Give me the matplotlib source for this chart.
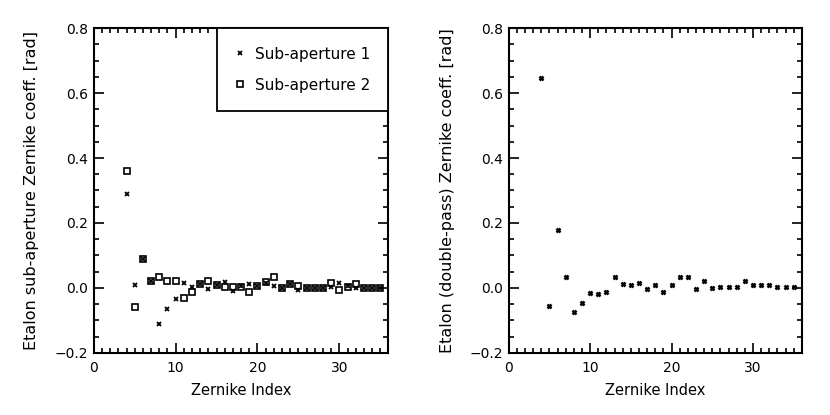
import matplotlib
matplotlib.use("Agg")
import matplotlib.pyplot as plt
from matplotlib.ticker import MultipleLocator, FixedLocator

zern_idx = list(range(4, 36))

sub1 = [0.29, 0.01, 0.09, 0.02, -0.11, -0.065, -0.035, 0.015, 0.003, 0.013,
        -0.004, 0.008, 0.017, -0.01, 0.005, 0.013, 0.007, 0.015, 0.005, 0.0,
        0.013, -0.006, 0.0, 0.0, 0.0, 0.004, 0.015, 0.005, 0.0, 0.0, 0.0, 0.0]

sub2 = [0.36, -0.06, 0.09, 0.02, 0.033, 0.02, 0.02, -0.03, -0.012, 0.013,
        0.02, 0.008, 0.003, 0.002, 0.004, -0.012, 0.007, 0.017, 0.032, 0.0,
        0.012, 0.005, 0.0, 0.0, 0.0, 0.016, -0.007, 0.004, 0.012, 0.0, 0.0, 0.0]

double_pass = [0.647, -0.055, 0.179, 0.034, -0.073, -0.048, -0.017, -0.019,
               -0.012, 0.034, 0.013, 0.008, 0.015, -0.004, 0.01, -0.012, 0.008,
               0.034, 0.034, -0.004, 0.02, -0.002, 0.003, 0.003, 0.003, 0.02,
               0.008, 0.008, 0.008, 0.003, 0.003, 0.003]

x_ticks = [0, 10, 20, 30]
x_ticklabels = ["0", "10", "20", "30"]
y_ticks = [-0.2, 0.0, 0.2, 0.4, 0.6, 0.8]
y_ticklabels = ["\u22120.2", "0.0", "0.2", "0.4", "0.6", "0.8"]

plt.rcParams['font.family'] = ['DejaVu Sans']
fig = plt.figure(figsize=(8.3, 4.15), dpi=100)
ax1 = fig.add_axes([0.113, 0.150, 0.355, 0.782])
ax2 = fig.add_axes([0.613, 0.150, 0.353, 0.782])

def style(ax, ylabel, ylab_x):
    ax.set_xlim(0, 36)
    ax.set_ylim(-0.2, 0.8)
    ax.xaxis.set_major_locator(FixedLocator(x_ticks))
    ax.set_xticklabels(x_ticklabels)
    ax.xaxis.set_minor_locator(MultipleLocator(1))
    ax.yaxis.set_major_locator(FixedLocator(y_ticks))
    ax.set_yticklabels(y_ticklabels)
    ax.yaxis.set_minor_locator(MultipleLocator(0.05))
    ax.tick_params(which='both', direction='in', top=True, right=True,
                   labelsize=10, width=1.2, colors='black')
    ax.tick_params(axis='y', pad=4)
    ax.tick_params(axis='x', pad=6)
    ax.tick_params(which='major', length=7)
    ax.tick_params(which='minor', length=3.5)
    for s in ax.spines.values():
        s.set_linewidth(1.5)
    ax.set_xlabel("Zernike Index", fontsize=10.5)
    ax.xaxis.set_label_coords(0.5, -0.092)
    ax.set_ylabel(ylabel, fontsize=11.5)
    ax.yaxis.set_label_coords(ylab_x, 0.5)

ax1.plot(zern_idx, sub1, linestyle='none', marker='x', markersize=2.6,
         markeredgewidth=1.3, color='black', label='Sub-aperture 1')
ax1.plot(zern_idx, sub2, linestyle='none', marker='s', markersize=3.8,
         markerfacecolor='none', markeredgewidth=1.2, color='black',
         label='Sub-aperture 2')
style(ax1, "Etalon sub-aperture Zernike coeff. [rad]", -0.187)
leg = ax1.legend(loc='upper right', bbox_to_anchor=(1.0, 1.0),
                 borderaxespad=0, fancybox=False, framealpha=1,
                 edgecolor='black', fontsize=11, borderpad=1.2,
                 labelspacing=1.05, handlelength=0.6, handletextpad=0.7)
leg.get_frame().set_linewidth(1.3)

ax2.plot(zern_idx, double_pass, linestyle='none', marker='x', markersize=3,
         markeredgewidth=1.8, color='black')
style(ax2, "Etalon (double-pass) Zernike coeff. [rad]", -0.184)

fig.savefig("out.png", dpi=100, facecolor='white')
